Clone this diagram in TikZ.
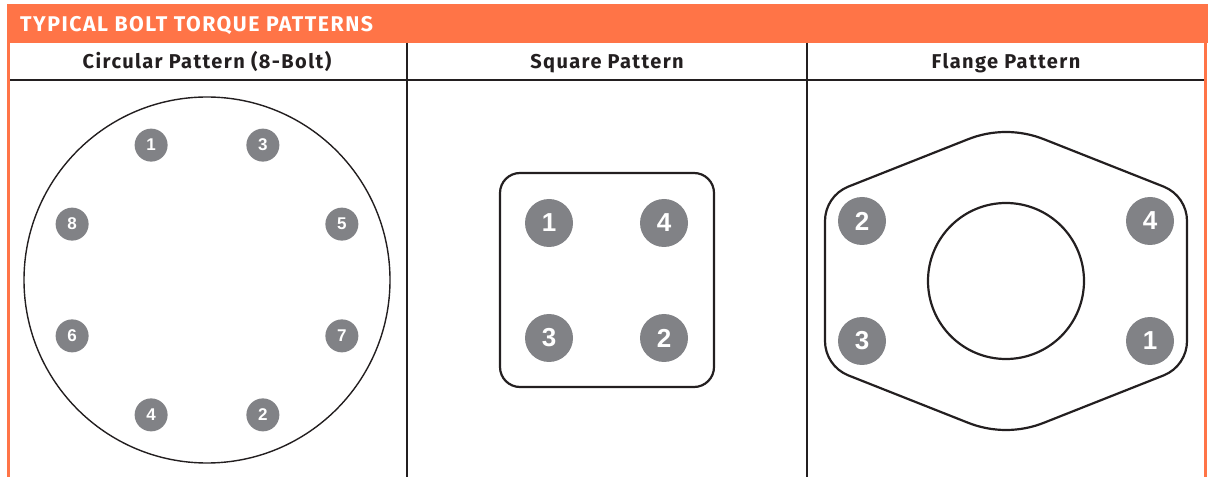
\documentclass[tikz,border=0pt]{standalone}
\usepackage{fontspec}
\usepackage{tikz}
\usetikzlibrary{positioning, calc}
\newfontfamily\headfont{Fira Sans}[LetterSpace=7]
\newfontfamily\boltfont{Liberation Sans}
\definecolor{torqueorange}{HTML}{FF7447}
\definecolor{boltgray}{HTML}{818286}
\definecolor{inkdark}{HTML}{231F20}

\begin{document}
\begin{tikzpicture}[x=1pt, y=1pt,
    bolt/.style={circle, fill=boltgray, text=white, inner sep=0pt,
        minimum size=33pt, font=\boltfont\bfseries\fontsize{17}{17}\selectfont},
    bigbolt/.style={bolt, minimum size=48pt, font=\boltfont\bfseries\fontsize{26}{26}\selectfont},
    colhead/.style={anchor=base, text=inkdark, font=\headfont\bfseries\fontsize{20}{24}\selectfont},
]
    \useasboundingbox (0, 0) rectangle (1208, 477);

    % Title band and table frame
    \fill[torqueorange] (7, 434) rectangle (1208, 473);
    \node[anchor=base west, inner sep=0pt, text=white, font=\headfont\bfseries\fontsize{21.3}{24}\selectfont]
        (title) at (20, 445) {TYPICAL BOLT TORQUE PATTERNS};
    \draw[torqueorange, line width=3pt] (8.5, 434) -- (8.5, 0);
    \draw[torqueorange, line width=3pt] (1205.5, 434) -- (1205.5, 0);
    \draw[inkdark, line width=2pt] (10, 396.5) -- (1204, 396.5);
    \draw[inkdark, line width=1.2pt] (407, 434) -- (407, 0);
    \draw[inkdark, line width=1.2pt] (807, 434) -- (807, 0);

    \node[colhead] (hcirc) at (207, 408) {Circular Pattern (8-Bolt)};
    \node[colhead] (hsq) at (607, 408) {Square Pattern};
    \node[colhead] (hfl) at (1006, 408) {Flange Pattern};

    % Circular pattern
    \node[circle, draw=inkdark, line width=1.4pt, minimum size=366pt] (ring) at (207, 197) {};
    \foreach \n/\a in {1/112.5, 3/67.5, 5/22.5, 7/-22.5, 2/-67.5, 4/-112.5, 6/202.5, 8/157.5}
        \node[bolt] (c\n) at ($(ring.center)+(\a:146)$) {\n};

    % Square pattern
    \node[draw=inkdark, line width=2.2pt, rounded corners=20pt, minimum size=214pt] (plate) at (607, 197) {};
    \node[bigbolt] (s1) at (549, 254) {1};
    \node[bigbolt] (s4) at (664, 254) {4};
    \node[bigbolt] (s3) at (549, 139) {3};
    \node[bigbolt] (s2) at (664, 139) {2};

    % Flange pattern
    \draw[inkdark, line width=2.2pt] (1187, 136) -- (1187, 256)
        arc[start angle=0, end angle=68, radius=37pt]
        -- ($(1006, 242)+(68:103)$) arc[start angle=68, end angle=112, radius=103pt]
        -- ($(862, 256)+(112:37)$) arc[start angle=112, end angle=180, radius=37pt]
        -- (825, 136) arc[start angle=180, end angle=248, radius=37pt]
        -- ($(1006, 150)+(248:103)$) arc[start angle=248, end angle=292, radius=103pt]
        -- ($(1150, 136)+(292:37)$) arc[start angle=292, end angle=360, radius=37pt]
        -- cycle;
    \node[circle, draw=inkdark, line width=2.2pt, minimum size=156pt] (bore) at (1006, 196) {};
    \node[bigbolt] (f2) at (862, 256) {2};
    \node[bigbolt] (f4) at (1150, 256) {4};
    \node[bigbolt] (f3) at (862, 136) {3};
    \node[bigbolt] (f1) at (1150, 136) {1};
\end{tikzpicture}
\end{document}
